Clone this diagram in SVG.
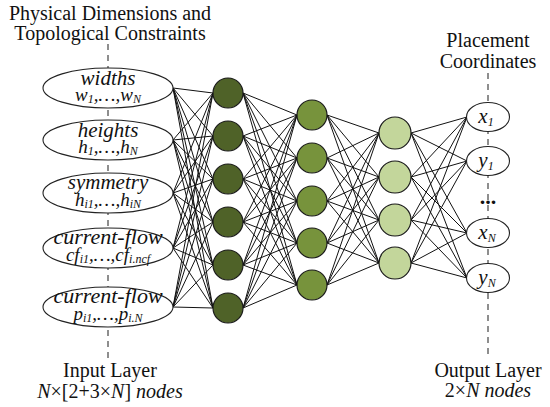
<svg xmlns="http://www.w3.org/2000/svg" width="550" height="407" viewBox="0 0 550 407">
<style>
text{font-family:"Liberation Serif","Times New Roman",serif;fill:#111;}
.t{font-size:20px;text-anchor:middle;}
.e{font-size:21px;font-style:italic;text-anchor:middle;}
.e2{font-size:19px;font-style:italic;text-anchor:middle;}
.s{font-size:12px;}
.in{fill:#fff;stroke:#222;stroke-width:1.1;}
.c1{fill:#4f6228;stroke:#1a1a1a;stroke-width:1.2;}
.c2{fill:#77933c;stroke:#1a1a1a;stroke-width:1.2;}
.c3{fill:#c3d69b;stroke:#1a1a1a;stroke-width:1.2;}
.w{fill:none;stroke:#111;stroke-width:1;}
.d{fill:none;stroke:#444;stroke-width:1.2;stroke-dasharray:6,5;}
</style>
<g id="guides">
<line class="d" x1="108" y1="44" x2="108" y2="358"/>
<line class="d" x1="488" y1="73" x2="488" y2="358"/>
</g>
<g id="connectors">
<path class="w" d="M173,88L213,93M173,88L213,136M173,88L213,179M173,88L213,222M173,88L213,265M173,88L213,308
M173,140L213,93M173,140L213,136M173,140L213,179M173,140L213,222M173,140L213,265M173,140L213,308
M173,193L213,93M173,193L213,136M173,193L213,179M173,193L213,222M173,193L213,265M173,193L213,308
M173,248L213,93M173,248L213,136M173,248L213,179M173,248L213,222M173,248L213,265M173,248L213,308
M173,307L213,93M173,307L213,136M173,307L213,179M173,307L213,222M173,307L213,265M173,307L213,308"/>
<path class="w" d="M243,93L297,115M243,93L297,158M243,93L297,201M243,93L297,243M243,93L297,285
M243,136L297,115M243,136L297,158M243,136L297,201M243,136L297,243M243,136L297,285
M243,179L297,115M243,179L297,158M243,179L297,201M243,179L297,243M243,179L297,285
M243,222L297,115M243,222L297,158M243,222L297,201M243,222L297,243M243,222L297,285
M243,265L297,115M243,265L297,158M243,265L297,201M243,265L297,243M243,265L297,285
M243,308L297,115M243,308L297,158M243,308L297,201M243,308L297,243M243,308L297,285"/>
<path class="w" d="M327,115L379,133M327,115L379,177M327,115L379,220M327,115L379,263
M327,158L379,133M327,158L379,177M327,158L379,220M327,158L379,263
M327,201L379,133M327,201L379,177M327,201L379,220M327,201L379,263
M327,243L379,133M327,243L379,177M327,243L379,220M327,243L379,263
M327,285L379,133M327,285L379,177M327,285L379,220M327,285L379,263"/>
<path class="w" d="M411,133L467,117M411,133L467,161M411,133L467,233M411,133L467,278
M411,177L467,117M411,177L467,161M411,177L467,233M411,177L467,278
M411,220L467,117M411,220L467,161M411,220L467,233M411,220L467,278
M411,263L467,117M411,263L467,161M411,263L467,233M411,263L467,278"/>
</g>
<g id="title-input">
<text class="t" x="110" y="20">Physical Dimensions and</text>
<text class="t" x="110" y="40">Topological Constraints</text>
</g>
<g id="title-output">
<text class="t" x="488" y="47">Placement</text>
<text class="t" x="488" y="68">Coordinates</text>
</g>
<g id="in-widths">
<ellipse class="in" cx="108" cy="88" rx="65" ry="20"/>
<text class="e" x="108" y="85">widths</text>
<text class="e2" x="108" y="101">w<tspan class="s" dy="2">1</tspan><tspan dy="-2">,…,w</tspan><tspan class="s" dy="2">N</tspan></text>
</g>
<g id="in-heights">
<ellipse class="in" cx="108" cy="140" rx="65" ry="20"/>
<text class="e" x="108" y="137">heights</text>
<text class="e2" x="108" y="153">h<tspan class="s" dy="2">1</tspan><tspan dy="-2">,…,h</tspan><tspan class="s" dy="2">N</tspan></text>
</g>
<g id="in-symmetry">
<ellipse class="in" cx="108" cy="193" rx="65" ry="20"/>
<text class="e" x="108" y="189">symmetry</text>
<text class="e2" x="108" y="206">h<tspan class="s" dy="2">i1</tspan><tspan dy="-2">,…,h</tspan><tspan class="s" dy="2">iN</tspan></text>
</g>
<g id="in-currentflow1">
<ellipse class="in" cx="108" cy="248" rx="65" ry="20"/>
<text class="e" x="108" y="244" style="font-size:22px">current-flow</text>
<text class="e2" x="108" y="261">cf<tspan class="s" dy="2">i1</tspan><tspan dy="-2">,…,cf</tspan><tspan class="s" dy="2">i.ncf</tspan></text>
</g>
<g id="in-currentflow2">
<ellipse class="in" cx="108" cy="307" rx="65" ry="20"/>
<text class="e" x="108" y="303" style="font-size:22px">current-flow</text>
<text class="e2" x="108" y="320">p<tspan class="s" dy="2">i1</tspan><tspan dy="-2">,…,p</tspan><tspan class="s" dy="2">i.N</tspan></text>
</g>
<g id="hidden1">
<circle class="c1" cx="228" cy="93" r="15"/>
<circle class="c1" cx="228" cy="136" r="15"/>
<circle class="c1" cx="228" cy="179" r="15"/>
<circle class="c1" cx="228" cy="222" r="15"/>
<circle class="c1" cx="228" cy="265" r="15"/>
<circle class="c1" cx="228" cy="308" r="15"/>
</g>
<g id="hidden2">
<circle class="c2" cx="312" cy="115" r="15"/>
<circle class="c2" cx="312" cy="158" r="15"/>
<circle class="c2" cx="312" cy="201" r="15"/>
<circle class="c2" cx="312" cy="243" r="15"/>
<circle class="c2" cx="312" cy="285" r="15"/>
</g>
<g id="hidden3">
<circle class="c3" cx="395" cy="133" r="16"/>
<circle class="c3" cx="395" cy="177" r="16"/>
<circle class="c3" cx="395" cy="220" r="16"/>
<circle class="c3" cx="395" cy="263" r="16"/>
</g>
<g id="out-x1">
<ellipse class="in" cx="488" cy="117" rx="21.5" ry="14.5"/>
<text class="e" x="486" y="123">x<tspan class="s" dy="3">1</tspan></text>
</g>
<g id="out-y1">
<ellipse class="in" cx="488" cy="161" rx="21.5" ry="14.5"/>
<text class="e" x="486" y="167">y<tspan class="s" dy="3">1</tspan></text>
</g>
<text x="488" y="204" style="font-size:22px;font-weight:bold;text-anchor:middle">...</text>
<g id="out-xN">
<ellipse class="in" cx="488" cy="233" rx="21.5" ry="14.5"/>
<text class="e" x="487" y="239">x<tspan class="s" dy="3">N</tspan></text>
</g>
<g id="out-yN">
<ellipse class="in" cx="488" cy="278" rx="21.5" ry="14.5"/>
<text class="e" x="487" y="284">y<tspan class="s" dy="3">N</tspan></text>
</g>
<g id="label-input">
<text class="t" x="110" y="377">Input Layer</text>
<text class="t" x="110" y="398"><tspan font-style="italic">N</tspan>×[2+3×<tspan font-style="italic">N</tspan>] <tspan font-style="italic">nodes</tspan></text>
</g>
<g id="label-output">
<text class="t" x="488" y="377">Output Layer</text>
<text class="t" x="488" y="397">2×<tspan font-style="italic">N nodes</tspan></text>
</g>
</svg>
